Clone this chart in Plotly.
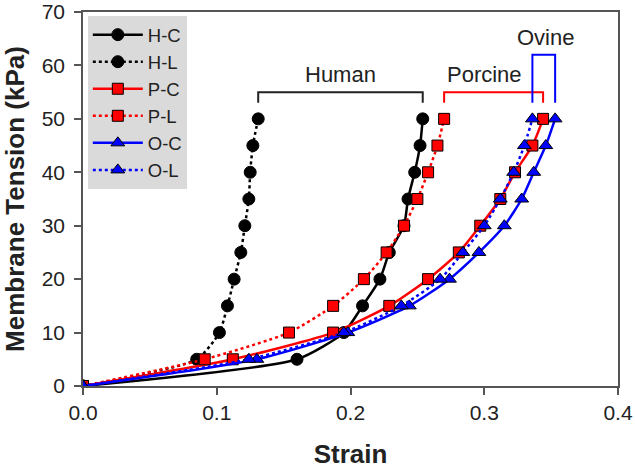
import plotly.graph_objects as go

tension = [0, 5, 10, 15, 20, 25, 30, 35, 40, 45, 50]

hc_strain = [0, 0.160, 0.195, 0.209, 0.222, 0.229, 0.240, 0.243, 0.248, 0.252, 0.254]
hl_strain = [0, 0.085, 0.102, 0.108, 0.113, 0.118, 0.121, 0.124, 0.125, 0.127, 0.131]
pc_strain = [0, 0.112, 0.187, 0.229, 0.258, 0.281, 0.297, 0.312, 0.323, 0.336, 0.344]
pl_strain = [0, 0.091, 0.154, 0.187, 0.210, 0.227, 0.240, 0.250, 0.258, 0.265, 0.270]
oc_strain = [0, 0.130, 0.198, 0.244, 0.274, 0.296, 0.315, 0.328, 0.337, 0.346, 0.353]
ol_strain = [0, 0.124, 0.195, 0.238, 0.267, 0.284, 0.300, 0.312, 0.322, 0.330, 0.336]

series_names = ["H-C", "H-L", "P-C", "P-L", "O-C", "O-L"]
x_ticks = [0.0, 0.1, 0.2, 0.3, 0.4]
y_ticks = [0, 10, 20, 30, 40, 50, 60, 70]
group_labels = ["Human", "Porcine", "Ovine"]

BLACK = "#000000"
RED = "#ff0000"
BLUE = "#0000ff"
TXT = "#222222"
FONT = "Liberation Sans, Arial, sans-serif"

styles = [
    (hc_strain, BLACK, "solid", "circle", BLACK),
    (hl_strain, BLACK, "dot", "circle", BLACK),
    (pc_strain, RED, "solid", "square", RED),
    (pl_strain, RED, "dot", "square", RED),
    (oc_strain, BLUE, "solid", "triangle-up", BLUE),
    (ol_strain, BLUE, "dot", "triangle-up", BLUE),
]

fig = go.Figure()
for name, (xs, col, dash, sym, fill) in zip(series_names, styles):
    fig.add_trace(go.Scatter(
        x=xs, y=tension, name=name, mode="lines+markers",
        line=dict(color=col, width=2.5, dash=dash, shape="spline", smoothing=0.6),
        marker=dict(symbol=sym, size=12 if sym != "square" else 11, color=fill,
                    line=dict(color=BLACK, width=1)),
    ))

# Brackets derived from series endpoints
top = tension[-1]
def bracket(x0, x1, ylow, yhigh, color):
    fig.add_shape(type="path",
                  path=f"M {x0},{ylow} L {x0},{yhigh} L {x1},{yhigh} L {x1},{ylow}",
                  line=dict(color=color, width=2), xref="x", yref="y")

bracket(hl_strain[-1], hc_strain[-1], top + 3, top + 5, TXT)
bracket(pl_strain[-1], pc_strain[-1], top + 3, top + 5, RED)
bracket(ol_strain[-1], oc_strain[-1], top + 3, top + 12, BLUE)

ann_font = dict(size=22, color=TXT, family=FONT)
fig.add_annotation(x=(hl_strain[-1] + hc_strain[-1]) / 2, y=top + 8.3, text=group_labels[0],
                   showarrow=False, font=ann_font)
fig.add_annotation(x=(pl_strain[-1] + pc_strain[-1]) / 2 - 0.007, y=top + 8.3, text=group_labels[1],
                   showarrow=False, font=ann_font)
fig.add_annotation(x=(ol_strain[-1] + oc_strain[-1]) / 2 + 0.001, y=top + 15.3, text=group_labels[2],
                   showarrow=False, font=ann_font)

axis_common = dict(showgrid=False, zeroline=False, showline=True, linecolor="#555555",
                   linewidth=1.5, mirror=True, ticks="outside", ticklen=7, tickwidth=1.5,
                   tickcolor="#555555", tickfont=dict(size=21, color=TXT, family=FONT),
                   automargin=False)

fig.update_xaxes(range=[0, 0.4], tickvals=x_ticks, ticktext=[f"{v:.1f}" for v in x_ticks],
                 title=dict(text="<b>Strain</b>", font=dict(size=26, color=TXT, family=FONT),
                            standoff=25),
                 **axis_common)
fig.update_yaxes(range=[0, 70], tickvals=y_ticks, ticklabelstandoff=5,
                 title=dict(text="<b>Membrane Tension (kPa)</b>",
                            font=dict(size=26, color=TXT, family=FONT), standoff=10),
                 **axis_common)

fig.update_layout(
    width=635, height=469,
    margin=dict(l=83, r=17, t=12, b=83),
    plot_bgcolor="white", paper_bgcolor="white",
    legend=dict(x=0.009, y=0.989, xanchor="left", yanchor="top", bgcolor="#dadada",
                font=dict(size=18.5, color=TXT, family=FONT), itemwidth=50,
                tracegroupgap=0, borderwidth=0),
    showlegend=True,
)

fig.write_html("out.html", config={"displayModeBar": False},
               post_script="document.body.style.margin='0';")
